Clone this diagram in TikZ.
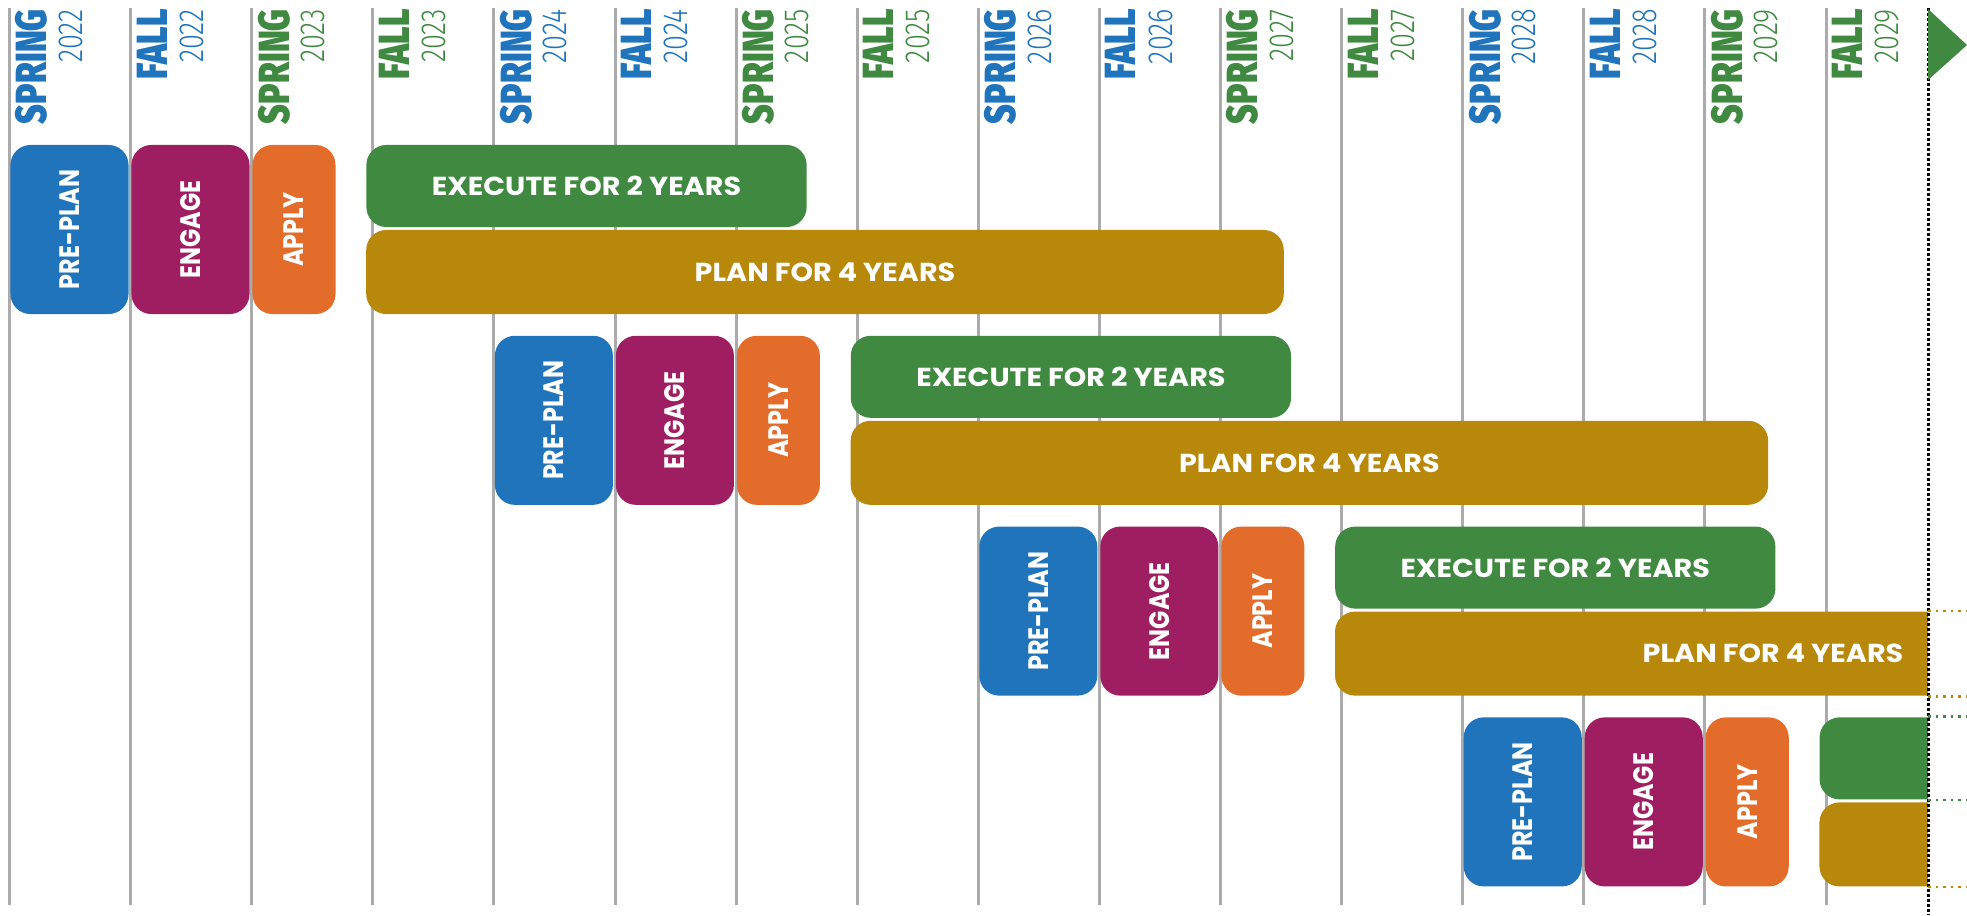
\documentclass[tikz,border=0pt]{standalone}
\usepackage{fontspec}
\newfontfamily\seasonfont{Fira Sans}[UprightFont=* Black, FakeStretch=0.77]
\newfontfamily\yearfont{Fira Sans}[UprightFont=* Light, FakeStretch=0.78]
\newfontfamily\phasefont{Poppins}[UprightFont=* Bold, FakeStretch=1.1]
\newfontfamily\tallfont{Poppins}[UprightFont=* Bold, FakeStretch=0.85]
\definecolor{tlblue}{HTML}{1F74BB}
\definecolor{tlpurple}{HTML}{9F1E62}
\definecolor{tlorange}{HTML}{E36C2B}
\definecolor{tlgreen}{HTML}{3F8A40}
\definecolor{tlgold}{HTML}{B8880B}
\definecolor{tlgray}{HTML}{ABABAB}
\tikzset{
  gridline/.style={draw=tlgray,line width=0.03cm},
  phasetext/.style={inner sep=0pt,text=white,font=\phasefont\fontsize{7.4pt}{8pt}\selectfont},
  phase/.style={phasetext,rounded corners=0.2cm},
  tallbox/.style={phase,font=\tallfont\fontsize{8pt}{9pt}\selectfont,rotate=90,minimum width=1.69cm,minimum height=1.18cm},
  execbox/.style={phase,fill=tlgreen,minimum width=4.40cm,minimum height=0.82cm},
  planbox/.style={phase,fill=tlgold,minimum width=9.17cm,minimum height=0.84cm},
  golddots/.style={draw=tlgold,line width=0.025cm,dash pattern=on 0.025cm off 0.05cm},
  greendots/.style={draw=tlgreen,line width=0.025cm,dash pattern=on 0.025cm off 0.05cm}
}
\begin{document}
\begin{tikzpicture}[x=0.01cm,y=-0.01cm]
\useasboundingbox (0,0) rectangle (1967,915);

% semester columns
\foreach \k in {0,...,15}{
  \pgfmathsetmacro\gx{9.5+121.1*\k}
  \pgfmathtruncatemacro\yr{2022+floor(\k/2)}
  \draw [gridline] (\gx,8) -- (\gx,905);
  \node (season\k) [rotate=90,anchor=north east,inner sep=0pt,
    text=\ifodd\yr tlgreen\else tlblue\fi,
    font=\seasonfont\fontsize{12.4pt}{12pt}\selectfont]
    at (\gx+5.5,8.5) {\ifodd\k FALL\else SPRING\fi};
  \node (year\k) [rotate=90,anchor=north east,inner sep=0pt,
    text=\ifodd\yr tlgreen\else tlblue\fi,
    font=\yearfont\fontsize{9.9pt}{10pt}\selectfont]
    at (\gx+48.5,8.5) {\yr};
}

% pre-plan, engage, apply
\foreach \r in {0,...,3}{
  \pgfmathsetmacro\L{10.5+484.4*\r}
  \pgfmathsetmacro\T{145+190.8*\r}
  \node (pre\r) [tallbox,fill=tlblue] at (\L+59,\T+84.5) {PRE-PLAN};
  \node (eng\r) [tallbox,fill=tlpurple] at (\L+180,\T+84.5) {ENGAGE};
  \node (app\r) [tallbox,fill=tlorange,minimum height=0.83cm] at (\L+283.5,\T+84.5) {APPLY};
}

% execute and plan bars, cut at the edge
\begin{scope}
\clip (0,0) rectangle (1928,915);
\node (exe0) [execbox] at (586.5,186) {EXECUTE FOR 2 YEARS};
\node (plan0) [planbox] at (825,272) {PLAN FOR 4 YEARS};
\node (exe1) [execbox] at (1070.9,376.8) {EXECUTE FOR 2 YEARS};
\node (plan1) [planbox] at (1309.4,462.8) {PLAN FOR 4 YEARS};
\node (exe2) [execbox] at (1555.3,567.6) {EXECUTE FOR 2 YEARS};
\node (plan2) [planbox] at (1793.8,653.6) {};
\node (exe3) [execbox] at (2039.7,758.4) {};
\node (plan3) [planbox] at (2278.2,844.4) {};
\end{scope}
\node (plantext2) [phasetext] at (1773,653.6) {PLAN FOR 4 YEARS};

% today line
\coordinate (edgetop) at (1928,8);
\coordinate (edgebot) at (1928,915);
\draw [line width=0.03cm,dash pattern=on 0.03cm off 0.02cm] (edgetop) -- (edgebot);
\fill [tlgreen] (1928,9) -- (1967,45) -- (1928,80) -- cycle;
\draw [golddots] (plan2.north -| edgetop) -- ++(39,0);
\draw [golddots] (plan2.south -| edgetop) -- ++(39,0);
\draw [greendots] (exe3.north -| edgetop) -- ++(39,0);
\draw [greendots] (exe3.south -| edgetop) -- ++(39,0);
\draw [golddots] (plan3.south -| edgetop) -- ++(39,0);
\end{tikzpicture}
\end{document}
